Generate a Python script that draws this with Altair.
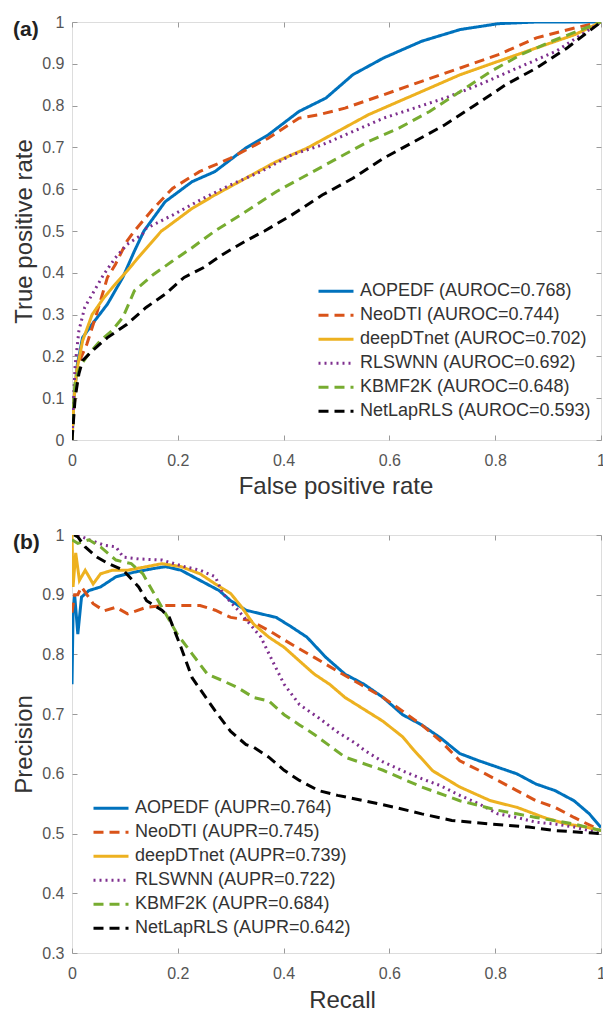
import altair as alt
import pandas as pd

# ---------------- data ----------------
methods = ["AOPEDF", "NeoDTI", "deepDTnet", "RLSWNN", "KBMF2K", "NetLapRLS"]
auroc = ["0.768", "0.744", "0.702", "0.692", "0.648", "0.593"]
aupr = ["0.764", "0.745", "0.739", "0.722", "0.684", "0.642"]
colors = ["#0072BD", "#D95319", "#EDB120", "#7E2F8E", "#77AC30", "#000000"]
dashes = [[1, 0], [10, 6], [1, 0], [2, 4], [10, 6], [10, 6]]

# ROC curves (false positive rate, true positive rate)
roc_aopedf_fpr = [0, 0.004, 0.010, 0.020, 0.038, 0.067, 0.096, 0.118, 0.136, 0.176, 0.227, 0.270, 0.328, 0.371, 0.429, 0.480, 0.531, 0.589, 0.661, 0.734, 0.806, 0.878, 1.0]
roc_aopedf_tpr = [0, 0.10, 0.18, 0.245, 0.277, 0.325, 0.389, 0.452, 0.50, 0.570, 0.618, 0.642, 0.698, 0.730, 0.786, 0.818, 0.874, 0.914, 0.954, 0.982, 0.996, 1.0, 1.0]

roc_neodti_fpr = [0, 0.004, 0.009, 0.017, 0.028, 0.046, 0.067, 0.082, 0.104, 0.118, 0.154, 0.190, 0.241, 0.299, 0.371, 0.429, 0.466, 0.516, 0.589, 0.661, 0.734, 0.806, 0.878, 0.951, 1.0]
roc_neodti_tpr = [0, 0.08, 0.142, 0.197, 0.229, 0.30, 0.389, 0.42, 0.476, 0.50, 0.554, 0.602, 0.642, 0.674, 0.722, 0.770, 0.778, 0.794, 0.826, 0.858, 0.890, 0.922, 0.962, 0.986, 1.0]

roc_deepdtnet_fpr = [0, 0.004, 0.009, 0.020, 0.038, 0.060, 0.082, 0.104, 0.125, 0.147, 0.169, 0.176, 0.227, 0.270, 0.328, 0.386, 0.444, 0.502, 0.560, 0.618, 0.676, 0.734, 0.806, 0.878, 0.951, 1.0]
roc_deepdtnet_tpr = [0, 0.10, 0.166, 0.237, 0.300, 0.340, 0.373, 0.404, 0.436, 0.468, 0.500, 0.506, 0.554, 0.586, 0.626, 0.666, 0.698, 0.738, 0.778, 0.810, 0.842, 0.874, 0.906, 0.938, 0.970, 1.0]

roc_rlswnn_fpr = [0, 0.003, 0.006, 0.013, 0.024, 0.042, 0.060, 0.082, 0.104, 0.133, 0.140, 0.190, 0.248, 0.299, 0.357, 0.415, 0.473, 0.531, 0.589, 0.647, 0.705, 0.770, 0.842, 0.915, 1.0]
roc_rlswnn_tpr = [0, 0.10, 0.180, 0.261, 0.317, 0.357, 0.396, 0.436, 0.468, 0.492, 0.506, 0.538, 0.578, 0.610, 0.642, 0.682, 0.706, 0.738, 0.770, 0.794, 0.818, 0.850, 0.890, 0.930, 1.0]

roc_kbmf2k_fpr = [0, 0.003, 0.006, 0.017, 0.031, 0.053, 0.075, 0.096, 0.118, 0.154, 0.190, 0.227, 0.270, 0.328, 0.386, 0.444, 0.502, 0.560, 0.618, 0.676, 0.734, 0.792, 0.849, 0.907, 1.0]
roc_kbmf2k_tpr = [0, 0.08, 0.142, 0.180, 0.205, 0.237, 0.261, 0.293, 0.357, 0.396, 0.428, 0.460, 0.500, 0.546, 0.594, 0.634, 0.674, 0.714, 0.746, 0.786, 0.834, 0.882, 0.922, 0.954, 1.0]

roc_netlaprls_fpr = [0, 0.003, 0.006, 0.013, 0.020, 0.038, 0.067, 0.104, 0.140, 0.176, 0.212, 0.248, 0.285, 0.328, 0.364, 0.415, 0.473, 0.531, 0.589, 0.647, 0.705, 0.763, 0.820, 0.878, 0.936, 1.0]
roc_netlaprls_tpr = [0, 0.05, 0.102, 0.158, 0.190, 0.213, 0.245, 0.277, 0.317, 0.349, 0.389, 0.412, 0.444, 0.476, 0.500, 0.538, 0.586, 0.626, 0.674, 0.714, 0.754, 0.802, 0.850, 0.890, 0.938, 1.0]

# PR curves (recall, precision)
pr_aopedf_rec = [0.0, 0.002, 0.005, 0.011, 0.018, 0.032, 0.054, 0.083, 0.119, 0.155, 0.177, 0.206, 0.242, 0.278, 0.300, 0.329, 0.357, 0.386, 0.415, 0.444, 0.480, 0.516, 0.552, 0.588, 0.625, 0.661, 0.697, 0.733, 0.769, 0.805, 0.841, 0.877, 0.913, 0.949, 0.978, 1.0]
pr_aopedf_pre = [0.75, 0.87, 0.90, 0.834, 0.896, 0.907, 0.913, 0.930, 0.938, 0.944, 0.947, 0.941, 0.924, 0.907, 0.890, 0.874, 0.868, 0.862, 0.846, 0.829, 0.795, 0.767, 0.750, 0.728, 0.699, 0.682, 0.660, 0.634, 0.622, 0.611, 0.600, 0.583, 0.572, 0.555, 0.533, 0.51]

pr_neodti_rec = [0.0, 0.005, 0.011, 0.018, 0.040, 0.061, 0.083, 0.105, 0.141, 0.177, 0.206, 0.242, 0.271, 0.300, 0.336, 0.372, 0.415, 0.458, 0.502, 0.545, 0.588, 0.625, 0.661, 0.697, 0.733, 0.769, 0.805, 0.841, 0.877, 0.913, 0.949, 0.986, 1.0]
pr_neodti_pre = [0.87, 0.90, 0.90, 0.913, 0.885, 0.873, 0.879, 0.868, 0.879, 0.882, 0.882, 0.882, 0.874, 0.862, 0.857, 0.840, 0.817, 0.795, 0.772, 0.750, 0.728, 0.705, 0.682, 0.655, 0.622, 0.606, 0.589, 0.572, 0.555, 0.544, 0.527, 0.511, 0.505]

pr_deepdtnet_rec = [0.0, 0.002, 0.007, 0.014, 0.025, 0.040, 0.054, 0.076, 0.105, 0.141, 0.170, 0.206, 0.242, 0.271, 0.300, 0.321, 0.343, 0.372, 0.401, 0.430, 0.458, 0.487, 0.516, 0.552, 0.588, 0.625, 0.646, 0.682, 0.733, 0.791, 0.841, 0.892, 0.935, 0.971, 1.0]
pr_deepdtnet_pre = [1.0, 0.913, 0.970, 0.924, 0.941, 0.918, 0.935, 0.941, 0.941, 0.947, 0.952, 0.947, 0.935, 0.918, 0.902, 0.879, 0.851, 0.829, 0.812, 0.789, 0.767, 0.750, 0.728, 0.708, 0.688, 0.662, 0.640, 0.605, 0.578, 0.555, 0.544, 0.527, 0.516, 0.511, 0.505]

pr_rlswnn_rec = [0.011, 0.032, 0.061, 0.083, 0.097, 0.126, 0.170, 0.213, 0.242, 0.271, 0.285, 0.314, 0.336, 0.357, 0.379, 0.401, 0.430, 0.466, 0.502, 0.538, 0.552, 0.588, 0.625, 0.661, 0.697, 0.733, 0.769, 0.805, 0.841, 0.877, 0.913, 0.949, 1.0]
pr_rlswnn_pre = [1.0, 0.992, 0.983, 0.980, 0.963, 0.960, 0.958, 0.947, 0.941, 0.930, 0.902, 0.874, 0.851, 0.829, 0.789, 0.750, 0.716, 0.694, 0.670, 0.650, 0.640, 0.620, 0.605, 0.592, 0.580, 0.564, 0.550, 0.533, 0.527, 0.519, 0.516, 0.511, 0.50]

pr_kbmf2k_rec = [0.0, 0.011, 0.032, 0.054, 0.083, 0.112, 0.134, 0.155, 0.177, 0.199, 0.227, 0.256, 0.285, 0.314, 0.343, 0.372, 0.401, 0.430, 0.458, 0.516, 0.588, 0.661, 0.733, 0.805, 0.877, 0.949, 1.0]
pr_kbmf2k_pre = [0.992, 0.986, 0.992, 0.980, 0.958, 0.952, 0.935, 0.902, 0.868, 0.834, 0.801, 0.767, 0.756, 0.744, 0.728, 0.722, 0.699, 0.682, 0.666, 0.628, 0.606, 0.578, 0.555, 0.539, 0.527, 0.516, 0.505]

pr_netlaprls_rec = [0.004, 0.011, 0.025, 0.047, 0.069, 0.097, 0.126, 0.141, 0.170, 0.184, 0.206, 0.227, 0.249, 0.271, 0.300, 0.329, 0.343, 0.372, 0.401, 0.430, 0.466, 0.502, 0.552, 0.610, 0.661, 0.718, 0.791, 0.863, 0.913, 1.0]
pr_netlaprls_pre = [1.0, 0.997, 0.980, 0.963, 0.952, 0.941, 0.913, 0.890, 0.874, 0.862, 0.812, 0.761, 0.733, 0.705, 0.671, 0.649, 0.645, 0.628, 0.606, 0.589, 0.572, 0.564, 0.555, 0.544, 0.533, 0.522, 0.516, 0.511, 0.505, 0.50]

roc_series = [
    (roc_aopedf_fpr, roc_aopedf_tpr),
    (roc_neodti_fpr, roc_neodti_tpr),
    (roc_deepdtnet_fpr, roc_deepdtnet_tpr),
    (roc_rlswnn_fpr, roc_rlswnn_tpr),
    (roc_kbmf2k_fpr, roc_kbmf2k_tpr),
    (roc_netlaprls_fpr, roc_netlaprls_tpr),
]
pr_series = [
    (pr_aopedf_rec, pr_aopedf_pre),
    (pr_neodti_rec, pr_neodti_pre),
    (pr_deepdtnet_rec, pr_deepdtnet_pre),
    (pr_rlswnn_rec, pr_rlswnn_pre),
    (pr_kbmf2k_rec, pr_kbmf2k_pre),
    (pr_netlaprls_rec, pr_netlaprls_pre),
]

roc_labels = [f"{m} (AUROC={v})" for m, v in zip(methods, auroc)]
pr_labels = [f"{m} (AUPR={v})" for m, v in zip(methods, aupr)]


def build(series, labels):
    rows = []
    for k, ((xs, ys), lab) in enumerate(zip(series, labels)):
        for i, (xv, yv) in enumerate(zip(xs, ys)):
            rows.append({"x": xv, "y": yv, "label": lab, "k": k, "i": i})
    return pd.DataFrame(rows)


FONT = "Liberation Sans"
GRAY = "#9a9a9a"
W, H = 529, 418
xticks = [0, 0.2, 0.4, 0.6, 0.8, 1]


def panel(df, labels, tag, xtitle, ytitle, ydom, yticks, legx, legy, xtitle_x, xtitle_y):
    xs = alt.Scale(domain=[0, 1], nice=False, zero=False)
    ys = alt.Scale(domain=ydom, nice=False, zero=False)
    leg = alt.Legend(
        orient="none", legendX=legx, legendY=legy, title=None,
        symbolType="stroke", symbolSize=1225, symbolStrokeWidth=3,
        labelFont=FONT, labelFontSize=18, labelColor="#333333",
        labelOffset=5, rowPadding=0, clipHeight=23.5, padding=0, labelLimit=400,
    )
    base = alt.Chart(df)
    lines = base.mark_line(strokeWidth=3, clip=True).encode(
        x=alt.X("x:Q", scale=xs, axis=alt.Axis(
            title=xtitle, values=xticks, format="~g", labelFlush=False,
            offset=-5, tickSize=5, domain=False, tickColor=GRAY,
            labelFont=FONT, labelFontSize=16, labelColor="#555555", labelPadding=12,
            titleFont=FONT, titleFontSize=24, titleFontWeight="normal", titleColor="#333333",
            titleX=xtitle_x, titleY=xtitle_y, titleAlign="center", titleBaseline="alphabetic",
            grid=False)),
        y=alt.Y("y:Q", scale=ys, axis=alt.Axis(
            title=ytitle, values=yticks, format="~g", labelFlush=False,
            offset=-5, tickSize=5, domain=False, tickColor=GRAY,
            labelFont=FONT, labelFontSize=16, labelColor="#555555", labelPadding=8,
            titleFont=FONT, titleFontSize=24, titleFontWeight="normal", titleColor="#333333",
            titleX=-46, titleY=H / 2, titleAngle=270, titleAlign="center", titleBaseline="alphabetic",
            grid=False)),
        color=alt.Color("label:N", scale=alt.Scale(domain=labels, range=colors), legend=leg),
        strokeDash=alt.StrokeDash("label:N", scale=alt.Scale(domain=labels, range=dashes), legend=leg),
        order=alt.Order("i:Q"),
    )
    frame = base.mark_line(opacity=0).encode(
        x=alt.X("x:Q", scale=xs, axis=alt.Axis(
            orient="top", values=xticks, labels=False, title=None, offset=-5,
            tickSize=5, domain=False, tickColor=GRAY, grid=False)),
        y=alt.Y("y:Q", scale=ys, axis=alt.Axis(
            orient="right", values=yticks, labels=False, title=None, offset=-5,
            tickSize=5, domain=False, tickColor=GRAY, grid=False)),
        detail="label:N",
    )
    tag_text = alt.Chart(pd.DataFrame({"tag": [tag]})).mark_text(
        font=FONT, fontSize=21, fontWeight="bold", color="#222222",
        align="left", baseline="alphabetic",
    ).encode(x=alt.value(-59), y=alt.value(14), text="tag:N")
    return alt.layer(lines, frame, tag_text).resolve_axis(
        x="independent", y="independent").properties(width=W, height=H)


roc_df = build(roc_series, roc_labels)
pr_df = build(pr_series, pr_labels)

roc_ticks = [0, 0.1, 0.2, 0.3, 0.4, 0.5, 0.6, 0.7, 0.8, 0.9, 1]
pr_ticks = [0.3, 0.4, 0.5, 0.6, 0.7, 0.8, 0.9, 1]

top = panel(roc_df, roc_labels, "(a)", "False positive rate", "True positive rate",
            [0, 1], roc_ticks, 245, 257.5, 263.5, 58.5)
bottom = panel(pr_df, pr_labels, "(b)", "Recall", "Precision",
               [0.3, 1], pr_ticks, 20, 261.5, 270, 59)

chart = alt.vconcat(top, bottom, spacing=27).resolve_scale(
    color="independent", strokeDash="independent"
).resolve_legend(color="independent", strokeDash="independent").properties(
    padding={"left": 3, "top": 5, "right": -3, "bottom": 0}
).configure_view(stroke=GRAY, strokeWidth=1).configure(background="white")

chart.save("out.html", embed_options={"renderer": "svg", "actions": False})
